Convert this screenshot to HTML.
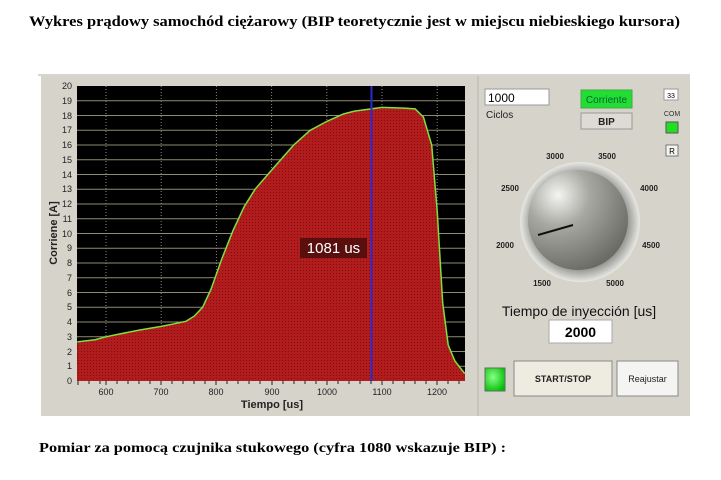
<!DOCTYPE html>
<html><head><meta charset="utf-8"><style>body{margin:0;background:#fff}svg{display:block}</style></head><body>
<svg width="721" height="480" viewBox="0 0 721 480" xmlns="http://www.w3.org/2000/svg">
<defs>
<pattern id="dots" width="3" height="3" patternUnits="userSpaceOnUse"><rect width="3" height="3" fill="#b31c1c"/><rect width="1" height="1" fill="#7a1010"/></pattern>
<radialGradient id="ball" cx="0.3" cy="0.25" r="0.9"><stop offset="0" stop-color="#f4f4f2"/><stop offset="0.35" stop-color="#a8a8a2"/><stop offset="1" stop-color="#5e5e58"/></radialGradient>
<radialGradient id="ring" cx="0.5" cy="0.5" r="0.5"><stop offset="0.8" stop-color="#9a9a96"/><stop offset="1" stop-color="#e8e8e4"/></radialGradient>
<radialGradient id="led" cx="0.4" cy="0.4" r="0.7"><stop offset="0" stop-color="#8f8"/><stop offset="1" stop-color="#0b0"/></radialGradient>
</defs>
<text x="29" y="26" font-family="Liberation Serif" font-weight="bold" font-size="15" textLength="651" lengthAdjust="spacingAndGlyphs">Wykres prądowy samochód ciężarowy (BIP teoretycznie jest w miejscu niebieskiego kursora)</text>
<line x1="38" y1="75" x2="690" y2="75" stroke="#c8c8c8" stroke-width="1.5"/>
<rect x="41" y="76" width="649" height="340" fill="#d6d3cb"/>
<line x1="478" y1="76" x2="478" y2="416" stroke="#b8b5ad"/>
<rect x="77" y="86" width="388" height="295" fill="#000"/>
<g stroke="#8c8c72" stroke-width="1">
<line x1="77" x2="465" y1="100.75" y2="100.75"/><line x1="77" x2="465" y1="115.5" y2="115.5"/><line x1="77" x2="465" y1="130.25" y2="130.25"/><line x1="77" x2="465" y1="145" y2="145"/><line x1="77" x2="465" y1="159.75" y2="159.75"/><line x1="77" x2="465" y1="174.5" y2="174.5"/><line x1="77" x2="465" y1="189.25" y2="189.25"/><line x1="77" x2="465" y1="204" y2="204"/><line x1="77" x2="465" y1="218.75" y2="218.75"/><line x1="77" x2="465" y1="233.5" y2="233.5"/><line x1="77" x2="465" y1="248.25" y2="248.25"/><line x1="77" x2="465" y1="263" y2="263"/><line x1="77" x2="465" y1="277.75" y2="277.75"/><line x1="77" x2="465" y1="292.5" y2="292.5"/><line x1="77" x2="465" y1="307.25" y2="307.25"/><line x1="77" x2="465" y1="322" y2="322"/><line x1="77" x2="465" y1="336.75" y2="336.75"/><line x1="77" x2="465" y1="351.5" y2="351.5"/><line x1="77" x2="465" y1="366.25" y2="366.25"/>
</g>
<g stroke="#888" stroke-dasharray="1,2">
<line x1="106" x2="106" y1="86" y2="381"/><line x1="161.2" x2="161.2" y1="86" y2="381"/><line x1="216.4" x2="216.4" y1="86" y2="381"/><line x1="271.6" x2="271.6" y1="86" y2="381"/><line x1="326.8" x2="326.8" y1="86" y2="381"/><line x1="382" x2="382" y1="86" y2="381"/><line x1="437.2" x2="437.2" y1="86" y2="381"/>
</g>
<path d="M77,381 L77.3,341.9 L95,339.7 L106,336.8 L117,334.5 L139.1,330.1 L161.2,326.4 L172.2,324.2 L186,321.3 L194.3,316.1 L202.6,307.3 L210.9,289.5 L221.9,258.6 L233,230.6 L244,207 L255,189.3 L271.6,170.1 L293.7,145 L310.2,130.3 L326.8,121.4 L343.4,114 L354.4,111.1 L371,108.9 L382,107.4 L404.1,108.1 L415.1,108.9 L423.4,117 L431.7,145 L437.2,211 L442.7,302.8 L448.2,345 L454.9,361 L464.8,373.6 L465,381 Z" fill="url(#dots)"/>
<path d="M77.3,341.9 L95,339.7 L106,336.8 L117,334.5 L139.1,330.1 L161.2,326.4 L172.2,324.2 L186,321.3 L194.3,316.1 L202.6,307.3 L210.9,289.5 L221.9,258.6 L233,230.6 L244,207 L255,189.3 L271.6,170.1 L293.7,145 L310.2,130.3 L326.8,121.4 L343.4,114 L354.4,111.1 L371,108.9 L382,107.4 L404.1,108.1 L415.1,108.9 L423.4,117 L431.7,145 L437.2,211 L442.7,302.8 L448.2,345 L454.9,361 L464.8,373.6" fill="none" stroke="#7fe040" stroke-width="1.5"/>
<line x1="371.5" x2="371.5" y1="86" y2="381" stroke="#2a2ad0" stroke-width="2"/>
<rect x="300" y="238" width="67" height="20" fill="#5a0f0f"/>
<text x="333.5" y="253" font-family="Liberation Sans" font-size="15" fill="#fff" text-anchor="middle">1081 us</text>
<g font-family="Liberation Sans" font-size="9" fill="#222" text-anchor="end">
<text x="72" y="89">20</text><text x="72" y="104">19</text><text x="72" y="119">18</text><text x="72" y="133">17</text><text x="72" y="148">16</text><text x="72" y="163">15</text><text x="72" y="178">14</text><text x="72" y="192">13</text><text x="72" y="207">12</text><text x="72" y="222">11</text><text x="72" y="237">10</text><text x="72" y="251">9</text><text x="72" y="266">8</text><text x="72" y="281">7</text><text x="72" y="296">6</text><text x="72" y="310">5</text><text x="72" y="325">4</text><text x="72" y="340">3</text><text x="72" y="355">2</text><text x="72" y="369">1</text><text x="72" y="384">0</text>
</g>
<g font-family="Liberation Sans" font-size="9" fill="#222" text-anchor="middle">
<text x="106" y="395">600</text><text x="161" y="395">700</text><text x="216" y="395">800</text><text x="272" y="395">900</text><text x="327" y="395">1000</text><text x="382" y="395">1100</text><text x="437" y="395">1200</text>
</g>
<path d="M78,381v4M89,381v3M100,381v3M106,381v4M117,381v3M128,381v3M139,381v3M150,381v3M161,381v4M172,381v3M183,381v3M194,381v3M205,381v3M216,381v4M227,381v3M238,381v3M249,381v3M260,381v3M272,381v4M283,381v3M294,381v3M305,381v3M316,381v3M327,381v4M338,381v3M349,381v3M360,381v3M371,381v3M382,381v4M393,381v3M404,381v3M415,381v3M426,381v3M437,381v4M448,381v3M459,381v3" stroke="#222"/>
<text x="272" y="408" font-family="Liberation Sans" font-weight="bold" font-size="11" fill="#222" text-anchor="middle">Tiempo [us]</text>
<text transform="translate(57,233) rotate(-90)" font-family="Liberation Sans" font-weight="bold" font-size="11" fill="#222" text-anchor="middle">Corriene [A]</text>
<!-- right panel -->
<rect x="485" y="89" width="64" height="16" fill="#fff" stroke="#999"/>
<text x="488" y="102" font-family="Liberation Sans" font-size="12" fill="#000">1000</text>
<text x="486" y="118" font-family="Liberation Sans" font-size="10" fill="#222">Ciclos</text>
<rect x="581" y="90" width="51" height="18" fill="#22dd33" stroke="#4a4"/>
<text x="606.5" y="103" font-family="Liberation Sans" font-size="10" fill="#063" text-anchor="middle">Corriente</text>
<rect x="581" y="113" width="51" height="16" fill="#dedbd4" stroke="#999"/>
<text x="606.5" y="125" font-family="Liberation Sans" font-weight="bold" font-size="10" fill="#222" text-anchor="middle">BIP</text>
<rect x="664" y="89" width="14" height="11" fill="#fff" stroke="#999"/>
<text x="671" y="98" font-family="Liberation Sans" font-size="7" text-anchor="middle">33</text>
<text x="672" y="116" font-family="Liberation Sans" font-size="7" fill="#333" text-anchor="middle">COM</text>
<rect x="666" y="122" width="12" height="11" fill="#22dd22" stroke="#555"/>
<rect x="666" y="145" width="12" height="11" fill="#f4f4f0" stroke="#777"/>
<text x="672" y="154" font-family="Liberation Sans" font-size="8" text-anchor="middle">R</text>
<circle cx="580" cy="222" r="60" fill="url(#ring)"/>
<circle cx="578" cy="220" r="50" fill="url(#ball)"/>
<line x1="538" y1="235" x2="573" y2="225" stroke="#111" stroke-width="2"/>
<g font-family="Liberation Sans" font-weight="bold" font-size="8" fill="#222" text-anchor="middle">
<text x="555" y="159">3000</text><text x="607" y="159">3500</text><text x="510" y="191">2500</text><text x="649" y="191">4000</text><text x="505" y="248">2000</text><text x="651" y="248">4500</text><text x="542" y="286">1500</text><text x="615" y="286">5000</text>
</g>
<text x="579" y="316" font-family="Liberation Sans" font-size="14" fill="#111" text-anchor="middle">Tiempo de inyección [us]</text>
<rect x="549" y="320" width="63" height="23" fill="#fff" stroke="#aaa"/>
<text x="580.5" y="337" font-family="Liberation Sans" font-weight="bold" font-size="14" text-anchor="middle">2000</text>
<rect x="485" y="368" width="20" height="23" fill="url(#led)" stroke="#575"/>
<rect x="514" y="361" width="98" height="35" fill="#eeebe0" stroke="#888"/>
<text x="563" y="382" font-family="Liberation Sans" font-weight="bold" font-size="9" fill="#222" text-anchor="middle">START/STOP</text>
<rect x="617" y="361" width="61" height="35" fill="#f4f4f2" stroke="#888"/>
<text x="647.5" y="382" font-family="Liberation Sans" font-size="9" fill="#222" text-anchor="middle">Reajustar</text>
<text x="39" y="452" font-family="Liberation Serif" font-weight="bold" font-size="14" textLength="467" lengthAdjust="spacingAndGlyphs">Pomiar za pomocą czujnika stukowego  (cyfra 1080 wskazuje BIP) :</text>
</svg>
</body></html>
